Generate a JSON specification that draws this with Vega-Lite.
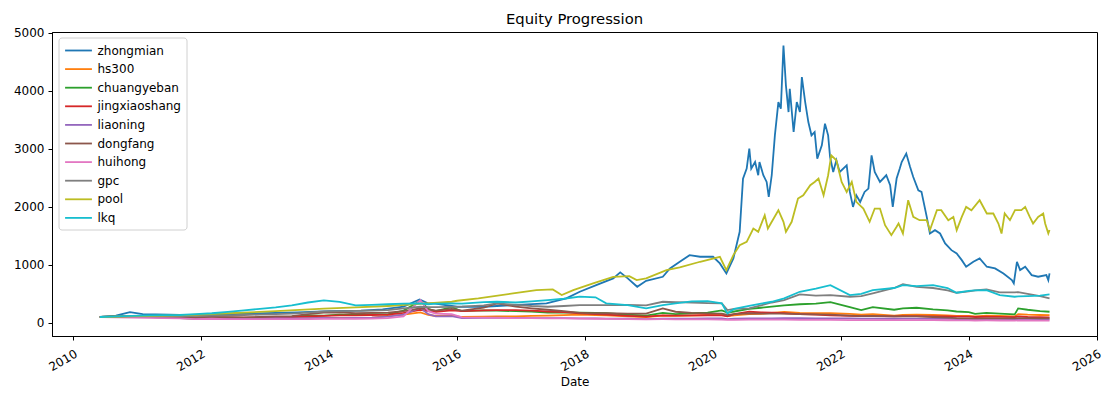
{
  "$schema": "https://vega.github.io/schema/vega-lite/v6.json",
  "width": 1045,
  "height": 304,
  "autosize": {"type": "none"},
  "padding": {"left": 52, "top": 32, "right": 12, "bottom": 59},
  "background": "white",
  "config": {
    "font": "DejaVu Sans",
    "view": {"stroke": "black", "strokeWidth": 1},
    "axis": {"grid": false, "domainColor": "black", "tickColor": "black", "tickSize": 4, "labelColor": "black", "labelFontSize": 12, "labelPadding": 3, "titleColor": "black", "titleFontWeight": "normal", "titleFontSize": 12, "domainWidth": 1, "tickWidth": 1}
  },
  "title": {"text": "Equity Progression", "fontSize": 14.8, "fontWeight": "normal", "color": "black", "offset": 0},
  "data": {"values": [
    {"date": "2010-06-01", "zhongmian": 100, "hs300": 100, "chuangyeban": 100, "jingxiaoshang": 100, "liaoning": 100, "dongfang": 100, "huihong": 100, "gpc": 100, "pool": 100, "lkq": 100},
    {"date": "2010-09-01", "hs300": 100, "chuangyeban": 108, "jingxiaoshang": 105, "liaoning": 100, "dongfang": 105, "huihong": 95, "gpc": 105, "lkq": 110},
    {"date": "2010-12-01", "hs300": 110, "chuangyeban": 118, "jingxiaoshang": 110, "liaoning": 105, "dongfang": 110, "huihong": 90, "gpc": 110, "lkq": 118},
    {"date": "2011-03-01", "hs300": 108, "chuangyeban": 105, "jingxiaoshang": 108, "liaoning": 100, "dongfang": 115, "huihong": 85, "gpc": 112, "lkq": 128},
    {"date": "2011-06-01", "hs300": 102, "chuangyeban": 88, "jingxiaoshang": 100, "liaoning": 95, "dongfang": 110, "huihong": 80, "gpc": 115, "lkq": 132},
    {"date": "2011-09-01", "hs300": 92, "chuangyeban": 80, "jingxiaoshang": 95, "liaoning": 85, "dongfang": 100, "huihong": 75, "gpc": 110, "lkq": 135},
    {"date": "2011-12-01", "hs300": 82, "chuangyeban": 68, "jingxiaoshang": 90, "liaoning": 80, "dongfang": 95, "huihong": 65, "gpc": 118, "lkq": 150},
    {"date": "2012-03-01", "hs300": 88, "chuangyeban": 75, "jingxiaoshang": 95, "liaoning": 82, "dongfang": 100, "huihong": 70, "gpc": 125, "lkq": 165},
    {"date": "2012-06-01", "hs300": 86, "chuangyeban": 72, "jingxiaoshang": 92, "liaoning": 80, "dongfang": 98, "huihong": 65, "gpc": 128, "lkq": 190},
    {"date": "2012-09-01", "hs300": 80, "chuangyeban": 68, "jingxiaoshang": 90, "liaoning": 75, "dongfang": 95, "huihong": 62, "gpc": 135, "lkq": 215},
    {"date": "2012-12-01", "hs300": 85, "chuangyeban": 66, "jingxiaoshang": 95, "liaoning": 78, "dongfang": 100, "huihong": 62, "gpc": 142, "lkq": 240},
    {"date": "2013-03-01", "hs300": 88, "chuangyeban": 95, "jingxiaoshang": 100, "liaoning": 80, "dongfang": 110, "huihong": 65, "gpc": 150, "lkq": 265},
    {"date": "2013-06-01", "hs300": 82, "chuangyeban": 105, "jingxiaoshang": 100, "liaoning": 78, "dongfang": 115, "huihong": 62, "gpc": 160, "lkq": 300},
    {"date": "2013-09-01", "hs300": 85, "chuangyeban": 130, "jingxiaoshang": 110, "liaoning": 82, "dongfang": 150, "huihong": 65, "gpc": 175, "lkq": 350},
    {"date": "2013-12-01", "hs300": 88, "chuangyeban": 125, "jingxiaoshang": 120, "liaoning": 85, "dongfang": 175, "huihong": 70, "gpc": 195, "lkq": 385},
    {"date": "2014-03-01", "hs300": 80, "chuangyeban": 140, "jingxiaoshang": 130, "liaoning": 82, "dongfang": 180, "huihong": 68, "gpc": 200, "lkq": 360},
    {"date": "2014-06-01", "hs300": 80, "chuangyeban": 135, "jingxiaoshang": 130, "liaoning": 85, "dongfang": 165, "huihong": 70, "gpc": 205, "lkq": 300},
    {"date": "2014-09-01", "hs300": 88, "chuangyeban": 150, "jingxiaoshang": 135, "liaoning": 90, "dongfang": 170, "huihong": 72, "gpc": 210, "lkq": 310},
    {"date": "2014-12-01", "hs300": 120, "chuangyeban": 145, "jingxiaoshang": 140, "liaoning": 105, "dongfang": 175, "huihong": 80, "gpc": 220, "lkq": 320},
    {"date": "2015-03-01", "hs300": 140, "chuangyeban": 210, "jingxiaoshang": 170, "liaoning": 140, "dongfang": 200, "huihong": 110, "gpc": 250, "lkq": 330},
    {"date": "2015-06-05", "hs300": 180, "chuangyeban": 380, "jingxiaoshang": 225, "liaoning": 260, "dongfang": 250, "huihong": 392, "gpc": 277, "lkq": 335},
    {"date": "2015-07-20", "hs300": 135, "chuangyeban": 240, "jingxiaoshang": 200, "liaoning": 150, "dongfang": 230, "huihong": 200, "gpc": 270, "lkq": 320},
    {"date": "2015-09-01", "hs300": 118, "chuangyeban": 200, "jingxiaoshang": 190, "liaoning": 110, "dongfang": 210, "huihong": 160, "gpc": 270, "lkq": 330},
    {"date": "2015-12-01", "hs300": 128, "chuangyeban": 270, "jingxiaoshang": 215, "liaoning": 115, "dongfang": 240, "huihong": 150, "gpc": 275, "lkq": 335},
    {"date": "2016-01-29", "hs300": 100, "chuangyeban": 200, "jingxiaoshang": 200, "liaoning": 80, "dongfang": 210, "huihong": 95, "gpc": 280, "lkq": 330},
    {"date": "2016-06-01", "hs300": 105, "chuangyeban": 215, "jingxiaoshang": 215, "liaoning": 85, "dongfang": 260, "huihong": 90, "gpc": 300, "lkq": 355},
    {"date": "2016-08-15", "hs300": 110, "chuangyeban": 210, "jingxiaoshang": 220, "liaoning": 88, "dongfang": 335, "huihong": 85, "gpc": 335, "lkq": 363},
    {"date": "2016-12-01", "hs300": 112, "chuangyeban": 200, "jingxiaoshang": 220, "liaoning": 85, "dongfang": 280, "huihong": 82, "gpc": 310, "lkq": 350},
    {"date": "2017-03-01", "hs300": 118, "chuangyeban": 195, "jingxiaoshang": 210, "liaoning": 82, "dongfang": 250, "huihong": 80, "gpc": 290, "lkq": 370},
    {"date": "2017-06-01", "hs300": 125, "chuangyeban": 178, "jingxiaoshang": 195, "liaoning": 80, "dongfang": 225, "huihong": 78, "gpc": 277, "lkq": 390},
    {"date": "2017-09-01", "hs300": 132, "chuangyeban": 180, "jingxiaoshang": 185, "liaoning": 80, "dongfang": 200, "huihong": 75, "gpc": 290, "lkq": 415},
    {"date": "2017-12-01", "hs300": 140, "chuangyeban": 175, "jingxiaoshang": 165, "liaoning": 78, "dongfang": 170, "huihong": 72, "gpc": 306, "lkq": 450},
    {"date": "2018-03-01", "hs300": 135, "chuangyeban": 170, "jingxiaoshang": 150, "liaoning": 75, "dongfang": 165, "huihong": 70, "gpc": 305, "lkq": 440},
    {"date": "2018-05-01", "hs300": 128, "chuangyeban": 165, "jingxiaoshang": 140, "liaoning": 72, "dongfang": 165, "huihong": 68, "gpc": 306, "lkq": 335},
    {"date": "2018-09-01", "hs300": 112, "chuangyeban": 140, "jingxiaoshang": 120, "liaoning": 70, "dongfang": 160, "huihong": 65, "gpc": 310, "lkq": 306},
    {"date": "2018-12-15", "hs300": 100, "chuangyeban": 125, "jingxiaoshang": 106, "liaoning": 65, "dongfang": 160, "huihong": 60, "gpc": 300, "lkq": 249},
    {"date": "2019-03-20", "hs300": 125, "chuangyeban": 170, "jingxiaoshang": 130, "liaoning": 72, "dongfang": 249, "huihong": 62, "gpc": 363, "lkq": 306},
    {"date": "2019-06-01", "hs300": 120, "chuangyeban": 150, "jingxiaoshang": 125, "liaoning": 70, "dongfang": 191, "huihong": 60, "gpc": 355, "lkq": 335},
    {"date": "2019-09-01", "hs300": 125, "chuangyeban": 165, "jingxiaoshang": 130, "liaoning": 72, "dongfang": 170, "huihong": 58, "gpc": 350, "lkq": 370},
    {"date": "2019-12-01", "hs300": 135, "chuangyeban": 175, "jingxiaoshang": 134, "liaoning": 75, "dongfang": 163, "huihong": 58, "gpc": 340, "lkq": 375},
    {"date": "2020-02-20", "hs300": 140, "chuangyeban": 215, "jingxiaoshang": 130, "liaoning": 75, "dongfang": 160, "huihong": 55, "gpc": 335, "lkq": 335},
    {"date": "2020-03-23", "hs300": 115, "chuangyeban": 175, "jingxiaoshang": 110, "liaoning": 65, "dongfang": 135, "huihong": 50, "gpc": 220, "lkq": 163},
    {"date": "2020-05-01", "hs300": 128, "chuangyeban": 195, "jingxiaoshang": 150, "liaoning": 70, "dongfang": 150, "huihong": 52, "gpc": 240, "lkq": 240},
    {"date": "2020-07-25", "hs300": 150, "chuangyeban": 240, "jingxiaoshang": 191, "liaoning": 75, "dongfang": 165, "huihong": 55, "gpc": 249, "lkq": 290},
    {"date": "2020-10-01", "hs300": 155, "chuangyeban": 260, "jingxiaoshang": 180, "liaoning": 78, "dongfang": 160, "huihong": 55, "gpc": 300, "lkq": 330},
    {"date": "2020-12-01", "hs300": 170, "chuangyeban": 280, "jingxiaoshang": 175, "liaoning": 78, "dongfang": 160, "huihong": 55, "gpc": 350, "lkq": 363},
    {"date": "2021-02-10", "hs300": 190, "chuangyeban": 300, "jingxiaoshang": 165, "liaoning": 80, "dongfang": 158, "huihong": 55, "gpc": 392, "lkq": 420},
    {"date": "2021-05-10", "hs300": 170, "chuangyeban": 320, "jingxiaoshang": 151, "liaoning": 80, "dongfang": 150, "huihong": 52, "gpc": 489, "lkq": 535},
    {"date": "2021-08-10", "hs300": 165, "chuangyeban": 330, "jingxiaoshang": 140, "liaoning": 78, "dongfang": 145, "huihong": 50, "gpc": 470, "lkq": 590},
    {"date": "2021-11-01", "hs300": 165, "chuangyeban": 355, "jingxiaoshang": 130, "liaoning": 77, "dongfang": 140, "huihong": 50, "gpc": 478, "lkq": 650},
    {"date": "2022-02-20", "hs300": 155, "chuangyeban": 270, "jingxiaoshang": 120, "liaoning": 75, "dongfang": 125, "huihong": 48, "gpc": 449, "lkq": 478},
    {"date": "2022-04-26", "hs300": 140, "chuangyeban": 220, "jingxiaoshang": 117, "liaoning": 72, "dongfang": 115, "huihong": 46, "gpc": 460, "lkq": 500},
    {"date": "2022-07-01", "hs300": 150, "chuangyeban": 270, "jingxiaoshang": 117, "liaoning": 74, "dongfang": 120, "huihong": 47, "gpc": 507, "lkq": 564},
    {"date": "2022-10-31", "hs300": 125, "chuangyeban": 225, "jingxiaoshang": 110, "liaoning": 70, "dongfang": 110, "huihong": 45, "gpc": 600, "lkq": 600},
    {"date": "2022-12-20", "hs300": 135, "chuangyeban": 250, "jingxiaoshang": 115, "liaoning": 72, "dongfang": 112, "huihong": 46, "gpc": 667, "lkq": 650},
    {"date": "2023-03-08", "hs300": 140, "chuangyeban": 260, "jingxiaoshang": 115, "liaoning": 72, "dongfang": 110, "huihong": 46, "gpc": 621, "lkq": 633},
    {"date": "2023-06-10", "hs300": 135, "chuangyeban": 232, "jingxiaoshang": 112, "liaoning": 70, "dongfang": 100, "huihong": 45, "gpc": 600, "lkq": 650},
    {"date": "2023-09-01", "hs300": 130, "chuangyeban": 215, "jingxiaoshang": 110, "liaoning": 68, "dongfang": 90, "huihong": 44, "gpc": 560, "lkq": 600},
    {"date": "2023-10-22", "hs300": 120, "chuangyeban": 195, "jingxiaoshang": 106, "liaoning": 65, "dongfang": 80, "huihong": 43, "gpc": 518, "lkq": 518},
    {"date": "2023-12-31", "hs300": 118, "chuangyeban": 185, "jingxiaoshang": 106, "liaoning": 62, "dongfang": 77, "huihong": 42, "gpc": 540, "lkq": 550},
    {"date": "2024-02-05", "hs300": 110, "chuangyeban": 155, "jingxiaoshang": 100, "liaoning": 58, "dongfang": 72, "huihong": 40, "gpc": 560, "lkq": 560},
    {"date": "2024-04-10", "hs300": 122, "chuangyeban": 170, "jingxiaoshang": 105, "liaoning": 60, "dongfang": 78, "huihong": 41, "gpc": 575, "lkq": 564},
    {"date": "2024-06-25", "hs300": 118, "chuangyeban": 160, "jingxiaoshang": 102, "liaoning": 60, "dongfang": 77, "huihong": 40, "gpc": 524, "lkq": 478},
    {"date": "2024-09-18", "hs300": 110, "chuangyeban": 146, "jingxiaoshang": 98, "liaoning": 58, "dongfang": 75, "huihong": 38, "gpc": 524, "lkq": 449},
    {"date": "2024-10-08", "hs300": 151, "chuangyeban": 249, "jingxiaoshang": 110, "liaoning": 65, "dongfang": 82, "huihong": 42, "gpc": 530, "lkq": 455},
    {"date": "2024-12-01", "hs300": 140, "chuangyeban": 225, "jingxiaoshang": 100, "liaoning": 63, "dongfang": 80, "huihong": 40, "gpc": 500, "lkq": 461},
    {"date": "2025-02-10", "hs300": 135, "chuangyeban": 200, "jingxiaoshang": 96, "liaoning": 60, "dongfang": 78, "huihong": 38, "gpc": 461, "lkq": 470},
    {"date": "2025-04-05", "hs300": 134, "chuangyeban": 191, "jingxiaoshang": 94, "liaoning": 60, "dongfang": 77, "huihong": 37, "gpc": 421, "lkq": 489},

    {"date": "2010-09-01", "zhongmian": 125},
    {"date": "2010-11-20", "zhongmian": 185},
    {"date": "2011-02-01", "zhongmian": 150},
    {"date": "2011-07-01", "zhongmian": 140},
    {"date": "2012-01-01", "zhongmian": 130},
    {"date": "2012-07-01", "zhongmian": 150},
    {"date": "2013-01-01", "zhongmian": 165},
    {"date": "2013-07-01", "zhongmian": 180},
    {"date": "2014-01-01", "zhongmian": 200},
    {"date": "2014-07-01", "zhongmian": 210},
    {"date": "2014-11-01", "zhongmian": 232},
    {"date": "2015-03-01", "zhongmian": 280},
    {"date": "2015-06-01", "zhongmian": 403},
    {"date": "2015-07-15", "zhongmian": 340},
    {"date": "2015-08-20", "zhongmian": 335},
    {"date": "2016-01-01", "zhongmian": 277},
    {"date": "2016-06-01", "zhongmian": 277},
    {"date": "2016-11-15", "zhongmian": 306},
    {"date": "2017-05-25", "zhongmian": 335},
    {"date": "2017-09-15", "zhongmian": 421},
    {"date": "2017-12-01", "zhongmian": 535},
    {"date": "2018-03-05", "zhongmian": 650},
    {"date": "2018-06-10", "zhongmian": 765},
    {"date": "2018-07-20", "zhongmian": 870},
    {"date": "2018-09-01", "zhongmian": 765},
    {"date": "2018-10-25", "zhongmian": 621},
    {"date": "2018-12-15", "zhongmian": 724},
    {"date": "2019-03-20", "zhongmian": 793},
    {"date": "2019-04-30", "zhongmian": 937},
    {"date": "2019-06-25", "zhongmian": 1051},
    {"date": "2019-08-20", "zhongmian": 1166},
    {"date": "2019-10-19", "zhongmian": 1138},
    {"date": "2020-01-01", "zhongmian": 1138},
    {"date": "2020-02-09", "zhongmian": 1023},
    {"date": "2020-03-17", "zhongmian": 851},
    {"date": "2020-04-26", "zhongmian": 1109},
    {"date": "2020-06-01", "zhongmian": 1568},
    {"date": "2020-06-20", "zhongmian": 2485},
    {"date": "2020-07-11", "zhongmian": 2657},
    {"date": "2020-07-26", "zhongmian": 3001},
    {"date": "2020-08-06", "zhongmian": 2657},
    {"date": "2020-08-28", "zhongmian": 2771},
    {"date": "2020-09-15", "zhongmian": 2542},
    {"date": "2020-09-22", "zhongmian": 2771},
    {"date": "2020-10-14", "zhongmian": 2542},
    {"date": "2020-11-02", "zhongmian": 2427},
    {"date": "2020-11-14", "zhongmian": 2170},
    {"date": "2020-12-01", "zhongmian": 2542},
    {"date": "2020-12-19", "zhongmian": 3230},
    {"date": "2021-01-08", "zhongmian": 3803},
    {"date": "2021-01-22", "zhongmian": 3689},
    {"date": "2021-02-06", "zhongmian": 4778},
    {"date": "2021-02-20", "zhongmian": 4090},
    {"date": "2021-03-07", "zhongmian": 3631},
    {"date": "2021-03-14", "zhongmian": 4033},
    {"date": "2021-04-05", "zhongmian": 3287},
    {"date": "2021-04-23", "zhongmian": 3803},
    {"date": "2021-05-11", "zhongmian": 3631},
    {"date": "2021-05-22", "zhongmian": 4233},
    {"date": "2021-06-10", "zhongmian": 3803},
    {"date": "2021-06-28", "zhongmian": 3459},
    {"date": "2021-07-16", "zhongmian": 3230},
    {"date": "2021-08-03", "zhongmian": 3287},
    {"date": "2021-08-18", "zhongmian": 2829},
    {"date": "2021-09-13", "zhongmian": 3058},
    {"date": "2021-10-01", "zhongmian": 3431},
    {"date": "2021-10-19", "zhongmian": 3230},
    {"date": "2021-10-30", "zhongmian": 2857},
    {"date": "2021-11-17", "zhongmian": 2599},
    {"date": "2021-12-05", "zhongmian": 2800},
    {"date": "2021-12-24", "zhongmian": 2599},
    {"date": "2022-02-02", "zhongmian": 2714},
    {"date": "2022-02-20", "zhongmian": 2255},
    {"date": "2022-03-10", "zhongmian": 1997},
    {"date": "2022-03-29", "zhongmian": 2198},
    {"date": "2022-04-20", "zhongmian": 2083},
    {"date": "2022-05-15", "zhongmian": 2255},
    {"date": "2022-06-06", "zhongmian": 2313},
    {"date": "2022-06-24", "zhongmian": 2886},
    {"date": "2022-07-12", "zhongmian": 2599},
    {"date": "2022-08-11", "zhongmian": 2427},
    {"date": "2022-09-16", "zhongmian": 2542},
    {"date": "2022-10-08", "zhongmian": 2370},
    {"date": "2022-10-23", "zhongmian": 1997},
    {"date": "2022-11-14", "zhongmian": 2485},
    {"date": "2022-12-02", "zhongmian": 2657},
    {"date": "2022-12-13", "zhongmian": 2771},
    {"date": "2023-01-08", "zhongmian": 2915},
    {"date": "2023-01-30", "zhongmian": 2685},
    {"date": "2023-02-17", "zhongmian": 2513},
    {"date": "2023-03-18", "zhongmian": 2284},
    {"date": "2023-04-05", "zhongmian": 2255},
    {"date": "2023-05-05", "zhongmian": 1825},
    {"date": "2023-05-23", "zhongmian": 1539},
    {"date": "2023-06-21", "zhongmian": 1596},
    {"date": "2023-07-20", "zhongmian": 1539},
    {"date": "2023-08-18", "zhongmian": 1367},
    {"date": "2023-09-23", "zhongmian": 1252},
    {"date": "2023-10-23", "zhongmian": 1195},
    {"date": "2023-11-21", "zhongmian": 1080},
    {"date": "2023-12-16", "zhongmian": 966},
    {"date": "2024-01-26", "zhongmian": 1052},
    {"date": "2024-03-02", "zhongmian": 1109},
    {"date": "2024-04-12", "zhongmian": 966},
    {"date": "2024-05-29", "zhongmian": 937},
    {"date": "2024-07-16", "zhongmian": 851},
    {"date": "2024-09-02", "zhongmian": 736},
    {"date": "2024-09-13", "zhongmian": 679},
    {"date": "2024-10-01", "zhongmian": 1052},
    {"date": "2024-10-19", "zhongmian": 908},
    {"date": "2024-11-17", "zhongmian": 966},
    {"date": "2024-12-24", "zhongmian": 822},
    {"date": "2025-01-30", "zhongmian": 794},
    {"date": "2025-03-18", "zhongmian": 822},
    {"date": "2025-03-29", "zhongmian": 736},
    {"date": "2025-04-05", "zhongmian": 851},

    {"date": "2011-01-01", "pool": 115},
    {"date": "2011-09-01", "pool": 130},
    {"date": "2012-06-01", "pool": 165},
    {"date": "2013-03-01", "pool": 200},
    {"date": "2013-12-01", "pool": 245},
    {"date": "2014-06-01", "pool": 265},
    {"date": "2014-12-01", "pool": 290},
    {"date": "2015-06-01", "pool": 325},
    {"date": "2015-12-01", "pool": 363},
    {"date": "2016-01-01", "pool": 380},
    {"date": "2016-05-01", "pool": 421},
    {"date": "2016-11-15", "pool": 507},
    {"date": "2017-03-28", "pool": 564},
    {"date": "2017-06-30", "pool": 575},
    {"date": "2017-08-20", "pool": 478},
    {"date": "2017-10-25", "pool": 564},
    {"date": "2018-02-15", "pool": 679},
    {"date": "2018-06-10", "pool": 793},
    {"date": "2018-09-10", "pool": 805},
    {"date": "2018-10-22", "pool": 736},
    {"date": "2018-12-15", "pool": 765},
    {"date": "2019-04-10", "pool": 908},
    {"date": "2019-06-25", "pool": 954},
    {"date": "2019-10-19", "pool": 1052},
    {"date": "2020-02-09", "pool": 1138},
    {"date": "2020-03-17", "pool": 908},
    {"date": "2020-04-26", "pool": 1166},
    {"date": "2020-06-01", "pool": 1338},
    {"date": "2020-07-11", "pool": 1396},
    {"date": "2020-08-18", "pool": 1625},
    {"date": "2020-09-15", "pool": 1568},
    {"date": "2020-10-22", "pool": 1854},
    {"date": "2020-11-09", "pool": 1625},
    {"date": "2021-01-08", "pool": 1940},
    {"date": "2021-02-06", "pool": 1740},
    {"date": "2021-02-20", "pool": 1568},
    {"date": "2021-03-25", "pool": 1740},
    {"date": "2021-04-30", "pool": 2141},
    {"date": "2021-05-30", "pool": 2198},
    {"date": "2021-07-09", "pool": 2370},
    {"date": "2021-08-03", "pool": 2427},
    {"date": "2021-08-25", "pool": 2485},
    {"date": "2021-09-23", "pool": 2198},
    {"date": "2021-10-19", "pool": 2542},
    {"date": "2021-11-06", "pool": 2886},
    {"date": "2021-12-05", "pool": 2800},
    {"date": "2022-01-04", "pool": 2427},
    {"date": "2022-02-02", "pool": 2255},
    {"date": "2022-03-03", "pool": 2427},
    {"date": "2022-03-29", "pool": 2083},
    {"date": "2022-05-08", "pool": 1969},
    {"date": "2022-06-13", "pool": 1740},
    {"date": "2022-07-12", "pool": 1969},
    {"date": "2022-08-11", "pool": 1969},
    {"date": "2022-09-09", "pool": 1682},
    {"date": "2022-10-15", "pool": 1510},
    {"date": "2022-11-14", "pool": 1654},
    {"date": "2022-11-25", "pool": 1711},
    {"date": "2022-12-20", "pool": 1539},
    {"date": "2023-01-19", "pool": 2112},
    {"date": "2023-02-17", "pool": 1825},
    {"date": "2023-03-25", "pool": 1768},
    {"date": "2023-05-05", "pool": 1768},
    {"date": "2023-05-23", "pool": 1596},
    {"date": "2023-07-02", "pool": 1940},
    {"date": "2023-07-27", "pool": 1940},
    {"date": "2023-09-05", "pool": 1768},
    {"date": "2023-10-04", "pool": 1825},
    {"date": "2023-10-23", "pool": 1596},
    {"date": "2023-11-21", "pool": 1825},
    {"date": "2023-12-16", "pool": 1997},
    {"date": "2024-01-15", "pool": 1940},
    {"date": "2024-03-02", "pool": 2112},
    {"date": "2024-04-12", "pool": 1883},
    {"date": "2024-05-19", "pool": 1883},
    {"date": "2024-06-17", "pool": 1711},
    {"date": "2024-07-05", "pool": 1539},
    {"date": "2024-07-23", "pool": 1883},
    {"date": "2024-08-22", "pool": 1768},
    {"date": "2024-09-20", "pool": 1940},
    {"date": "2024-10-26", "pool": 1940},
    {"date": "2024-11-17", "pool": 1997},
    {"date": "2024-12-13", "pool": 1825},
    {"date": "2025-01-01", "pool": 1711},
    {"date": "2025-01-30", "pool": 1825},
    {"date": "2025-02-28", "pool": 1883},
    {"date": "2025-03-11", "pool": 1711},
    {"date": "2025-03-29", "pool": 1539},
    {"date": "2025-04-05", "pool": 1600}
  ]},
  "transform": [
    {"fold": ["zhongmian", "hs300", "chuangyeban", "jingxiaoshang", "liaoning", "dongfang", "huihong", "gpc", "pool", "lkq"], "as": ["series", "value"]},
    {"filter": "isValid(datum.value)"}
  ],
  "mark": {"type": "line", "strokeWidth": 1.8, "clip": true},
  "encoding": {
    "x": {
      "field": "date", "type": "temporal",
      "scale": {"domain": [{"year": 2009, "month": 9, "date": 1}, {"year": 2026, "month": 1, "date": 1}], "nice": false},
      "axis": {
        "title": "Date", "titlePadding": 4,
        "values": [{"year": 2010, "month": 1, "date": 1}, {"year": 2012, "month": 1, "date": 1}, {"year": 2014, "month": 1, "date": 1}, {"year": 2016, "month": 1, "date": 1}, {"year": 2018, "month": 1, "date": 1}, {"year": 2020, "month": 1, "date": 1}, {"year": 2022, "month": 1, "date": 1}, {"year": 2024, "month": 1, "date": 1}, {"year": 2026, "month": 1, "date": 1}],
        "format": "%Y", "labelAngle": -30, "labelAlign": "right", "labelBaseline": "top", "labelPadding": 8, "labelDx": -6, "labelOverlap": false, "labelBound": false, "labelFlush": false
      }
    },
    "y": {
      "field": "value", "type": "quantitative",
      "scale": {"domain": [-227, 5010], "nice": false, "zero": false},
      "axis": {"title": null, "values": [0, 1000, 2000, 3000, 4000, 5000], "format": "d", "labelPadding": 4}
    },
    "color": {
      "field": "series", "type": "nominal",
      "scale": {"domain": ["zhongmian", "hs300", "chuangyeban", "jingxiaoshang", "liaoning", "dongfang", "huihong", "gpc", "pool", "lkq"], "range": ["#1f77b4", "#ff7f0e", "#2ca02c", "#d62728", "#9467bd", "#8c564b", "#e377c2", "#7f7f7f", "#bcbd22", "#17becf"]},
      "legend": {
        "title": null, "orient": "none", "legendX": 6.5, "legendY": 5.5,
        "symbolType": "M-2,0H2", "symbolSize": 180, "symbolStrokeWidth": 1.8, "symbolOffset": 7,
        "labelFontSize": 12, "labelColor": "black", "labelOffset": 11, "rowPadding": 4.6,
        "strokeColor": "#d0d0d0", "fillColor": "rgba(255,255,255,0.8)", "cornerRadius": 3, "padding": 5
      }
    }
  }
}
